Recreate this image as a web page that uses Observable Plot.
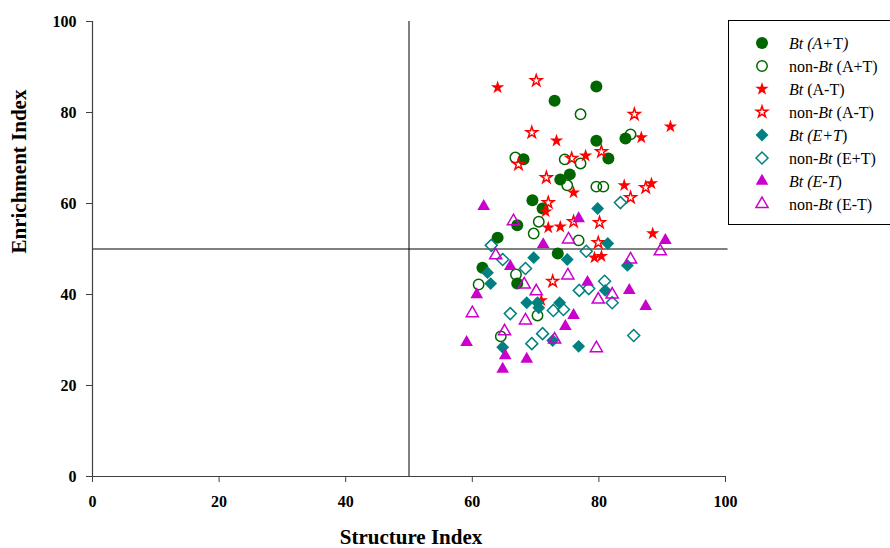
<!DOCTYPE html>
<html><head><meta charset="utf-8">
<script src="https://cdn.jsdelivr.net/npm/d3@7"></script>
<script src="https://cdn.jsdelivr.net/npm/@observablehq/plot@0.6"></script>
<style>body{margin:0;background:#fff}#chart{width:890px;height:548px}</style>
</head><body><div id="chart"></div>
<script>
// ---- data ----
const btAT_x = [79.6,73.0,79.6,84.2,81.5,68.1,73.9,75.4,69.5,71.1,67.1,64.0,61.6,73.5,67.1];
const btAT_y = [85.7,82.6,73.8,74.3,69.9,69.7,65.3,66.4,60.7,58.9,55.2,52.5,45.9,49.0,42.4];

const nonBtAT_x = [77.1,85.0,66.8,74.6,77.1,75.0,79.6,80.7,70.5,69.7,76.8,66.9,61.0,70.3,64.5];
const nonBtAT_y = [79.6,75.2,70.1,69.7,68.8,64.0,63.7,63.7,56.0,53.4,51.9,44.4,42.2,35.4,30.8];

const btAmT_x = [64.0,73.3,77.9,86.7,91.3,76.0,84.0,88.3,71.6,72.0,73.9,88.5,79.3,80.4,70.9];
const btAmT_y = [85.5,73.8,70.5,74.5,76.9,62.4,64.0,64.4,58.2,54.7,54.9,53.4,48.1,48.4,38.7];

const nonBtAmT_x = [70.1,69.4,85.6,80.4,75.7,67.3,71.7,72.0,87.4,85.0,76.0,80.1,79.9,72.7];
const nonBtAmT_y = [87.0,75.6,79.6,71.4,69.9,68.6,65.7,60.2,63.5,61.3,56.0,55.8,51.4,42.9];

const btET_x = [79.8,81.4,69.7,75.0,84.5,62.4,62.9,68.6,70.3,70.5,73.8,72.7,64.8,76.8,81.0];
const btET_y = [58.9,51.2,48.1,47.7,46.4,44.8,42.4,38.2,38.2,37.1,38.2,29.9,28.4,28.6,40.9];

const nonBtET_x = [83.4,63.0,78.0,64.8,68.4,76.9,78.4,80.9,82.1,72.8,74.4,66.0,71.1,69.4,85.5];
const nonBtET_y = [60.2,50.8,49.5,47.7,45.7,40.9,41.3,42.9,38.2,36.5,36.7,35.8,31.4,29.2,31.0];

const btEmT_x = [61.8,76.8,90.5,71.2,66.0,78.2,84.8,60.7,87.4,76.0,74.7,59.1,65.2,68.6,64.8];
const btEmT_y = [59.4,56.7,51.9,51.0,46.2,42.7,40.9,40.0,37.4,35.4,33.0,29.5,26.6,25.8,23.6];

const nonBtEmT_x = [66.5,75.2,89.7,63.7,85.0,75.1,68.2,70.1,82.1,79.9,60.0,68.4,65.1,73.0,79.6];
const nonBtEmT_y = [56.1,52.1,49.5,48.6,47.7,44.2,42.2,40.7,40.0,38.9,35.9,34.3,31.9,30.1,28.2];

const xTicks = [0,20,40,60,80,100];
const yTicks = [0,20,40,60,80,100];
const xTitle = "Structure Index";
const yTitle = "Enrichment Index";

// legend label parts: [text, italic]
const legendLabels = [
  [["Bt (A+", true],["T", false],[")", true]],
  [["non-", false],["Bt", true],[" (A+T)", false]],
  [["Bt", true],[" (A-T)", false]],
  [["non-", false],["Bt", true],[" (A-T)", false]],
  [["Bt (E+T", true],[")", false]],
  [["non-", false],["Bt", true],[" (E+T)", false]],
  [["Bt (E-T", true],[")", false]],
  [["non-", false],["Bt", true],[" (E-T)", false]]
];

const GREEN = "#006600", RED = "#ff0000", TEAL = "#008080", MAG = "#cc00cc";
const FONT = "'Liberation Serif','Times New Roman',serif";

const series = [
  {x: btAT_x, y: btAT_y, symbol: "circle", r: 6, color: GREEN, filled: true},
  {x: nonBtAT_x, y: nonBtAT_y, symbol: "circle", r: 5.2, color: GREEN, filled: false},
  {x: btAmT_x, y: btAmT_y, symbol: "star", r: 4.2, color: RED, filled: true},
  {x: nonBtAmT_x, y: nonBtAmT_y, symbol: "star", r: 3.6, color: RED, filled: false},
  {x: btET_x, y: btET_y, symbol: "diamond2", r: 5.8, color: TEAL, filled: true},
  {x: nonBtET_x, y: nonBtET_y, symbol: "diamond2", r: 5.4, color: TEAL, filled: false},
  {x: btEmT_x, y: btEmT_y, symbol: "triangle", r: 4.7, color: MAG, filled: true},
  {x: nonBtEmT_x, y: nonBtEmT_y, symbol: "triangle", r: 4.5, color: MAG, filled: false}
];

const dotMarks = series.map(s => {
  const data = s.x.map((v, i) => ({x: v, y: s.y[i]}));
  return Plot.dot(data, {
    x: "x", y: "y", symbol: s.symbol, r: s.r,
    fill: s.filled ? s.color : "none",
    stroke: s.filled ? "none" : s.color,
    strokeWidth: s.filled ? 0 : 1.5
  });
});

const chart = Plot.plot({
  width: 890, height: 548,
  marginLeft: 92, marginRight: 165, marginTop: 21, marginBottom: 72,
  style: {fontFamily: FONT, background: "#fff", overflow: "visible"},
  x: {domain: [0, 100]},
  y: {domain: [0, 100]},
  marks: [
    Plot.ruleX([50], {y1: 0, y2: 100, stroke: "#000", strokeWidth: 1}),
    Plot.ruleY([50], {x1: 0, x2: 100.4, stroke: "#000", strokeWidth: 1}),
    ...dotMarks,
    Plot.ruleX([0], {y1: 0, y2: 100, stroke: "#404040", strokeWidth: 1.2}),
    Plot.ruleY([0], {x1: 0, x2: 100, stroke: "#404040", strokeWidth: 1.2}),
    Plot.axisX({ticks: xTicks, tickSize: 6, tickPadding: 13, label: null,
      fontSize: 16, fontWeight: "bold", stroke: "#404040", fill: "#000"}),
    Plot.axisY({ticks: yTicks, tickSize: 6, tickPadding: 10, label: null,
      fontSize: 16, fontWeight: "bold", stroke: "#404040", fill: "#000"}),
    Plot.text([xTitle], {frameAnchor: "bottom", dy: 67, text: d => d,
      fontSize: 21, fontWeight: "bold", fill: "#000", dx: 2}),
    Plot.text([yTitle], {frameAnchor: "left", dx: -73, dy: 4.5, rotate: -90, text: d => d,
      fontSize: 21, fontWeight: "bold", fill: "#000"})
  ]
});

document.getElementById("chart").appendChild(chart);

// ---- legend ----
const svg = d3.select(chart);
const lg = svg.append("g").attr("font-family", FONT).attr("font-size", 16).attr("text-anchor", "start");
lg.append("rect").attr("x", 728.5).attr("y", 20.5).attr("width", 200).attr("height", 204)
  .attr("fill", "#fff").attr("stroke", "#000").attr("stroke-width", 1);
const symMap = {circle: d3.symbolCircle, star: d3.symbolStar, diamond2: d3.symbolDiamond2, triangle: d3.symbolTriangle};
series.forEach((s, i) => {
  const cy = 43 + i * 23;
  lg.append("path")
    .attr("transform", `translate(762,${cy})`)
    .attr("d", d3.symbol(symMap[s.symbol], Math.PI * s.r * s.r)())
    .attr("fill", s.filled ? s.color : "none")
    .attr("stroke", s.filled ? "none" : s.color)
    .attr("stroke-width", s.filled ? 0 : 1.5);
  const t = lg.append("text").attr("x", 789).attr("y", cy + 5.5).attr("fill", "#000").attr("text-anchor", "start");
  legendLabels[i].forEach(([txt, it]) => {
    t.append("tspan").attr("font-style", it ? "italic" : "normal").text(txt);
  });
});
</script>
</body></html>
